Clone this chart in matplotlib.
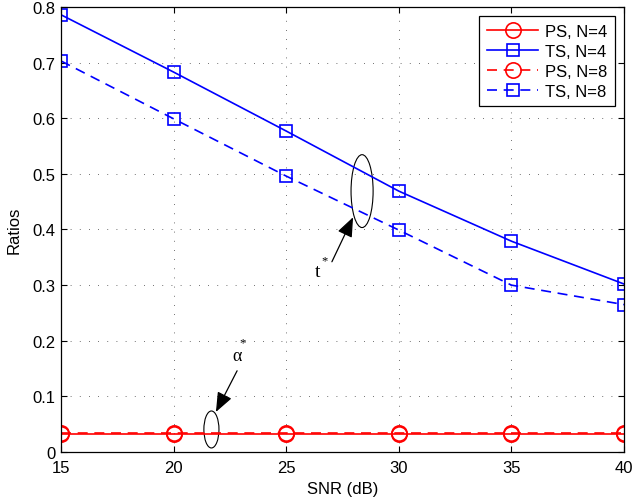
import matplotlib
matplotlib.use("Agg")
import matplotlib.pyplot as plt
from matplotlib.patches import Ellipse

snr = [15, 20, 25, 30, 35, 40]
ps_n4 = [0.032, 0.032, 0.032, 0.032, 0.032, 0.032]
ts_n4 = [0.786, 0.683, 0.577, 0.469, 0.379, 0.302]
ps_n8 = [0.034, 0.034, 0.034, 0.034, 0.034, 0.034]
ts_n8 = [0.703, 0.599, 0.496, 0.399, 0.300, 0.265]

xticks = [15, 20, 25, 30, 35, 40]
yticks = [0, 0.1, 0.2, 0.3, 0.4, 0.5, 0.6, 0.7, 0.8]
ytick_labels = ["0", "0.1", "0.2", "0.3", "0.4", "0.5", "0.6", "0.7", "0.8"]

plt.rcParams['font.family'] = ['Liberation Sans', 'DejaVu Sans']

fig = plt.figure(figsize=(6.34, 5.02), dpi=100)
ax = fig.add_axes([0.0962, 0.0976, 0.888, 0.8865])

lw = 1.2
ax.plot(snr, ps_n4, '-', color='red', marker='o', mfc='none', ms=11, lw=lw, mew=1.2, label='PS, N=4')
ax.plot(snr, ts_n4, '-', color='blue', marker='s', mfc='none', ms=8.5, lw=lw, mew=1.2, label='TS, N=4')
ax.plot(snr, ps_n8, '--', color='red', marker='o', mfc='none', ms=11, lw=lw, mew=1.2, dashes=(6, 4), label='PS, N=8')
ax.plot(snr, ts_n8, '--', color='blue', marker='s', mfc='none', ms=8.5, lw=lw, mew=1.2, dashes=(6, 4), label='TS, N=8')

ax.set_xlim(15, 40)
ax.set_ylim(0, 0.8)
ax.set_xticks(xticks)
ax.set_yticks(yticks)
ax.set_yticklabels(ytick_labels)
ax.tick_params(direction='in', top=True, right=True, labelsize=12, length=4)
ax.tick_params(axis='x', pad=6)
ax.tick_params(axis='y', pad=4)
ax.grid(True, linestyle=(0, (1, 10)), color='0.25', linewidth=0.6)
ax.set_xlabel('SNR (dB)', fontsize=12, labelpad=4)
ax.set_ylabel('Ratios', fontsize=12, labelpad=8)
for s in ax.spines.values():
    s.set_linewidth(0.9)

ax.add_patch(Ellipse((28.37, 0.469), 0.98, 0.131, fill=False, ec='black', lw=0.8))
ax.add_patch(Ellipse((21.68, 0.0405), 0.67, 0.0665, fill=False, ec='black', lw=0.8))

aprops = dict(arrowstyle='-|>,head_length=1.0,head_width=0.4', color='black', lw=0.9, mutation_scale=12,
              shrinkA=0, shrinkB=0)
ax.annotate('', xy=(27.97, 0.422), xytext=(27.03, 0.342), arrowprops=aprops)
ax.annotate('', xy=(21.88, 0.072), xytext=(22.82, 0.146), arrowprops=aprops)

serif = ['Liberation Serif', 'DejaVu Serif']
ax.text(26.41, 0.325, 't', fontsize=14, ha='center', va='center', family=serif)
ax.text(26.70, 0.345, '*', fontsize=9, ha='center', va='center', family=serif)
ax.text(22.80, 0.173, 'α', fontsize=13, ha='center', va='center', family=serif)
ax.text(23.07, 0.198, '*', fontsize=9, ha='center', va='center', family=serif)

leg = ax.legend(loc='upper right', fontsize=12, fancybox=False, framealpha=1,
                edgecolor='black', borderaxespad=0.55, handlelength=3.1, labelspacing=0.3,
                borderpad=0.45, handletextpad=0.4)
leg.get_frame().set_linewidth(0.9)

fig.savefig('out.png', dpi=100)
